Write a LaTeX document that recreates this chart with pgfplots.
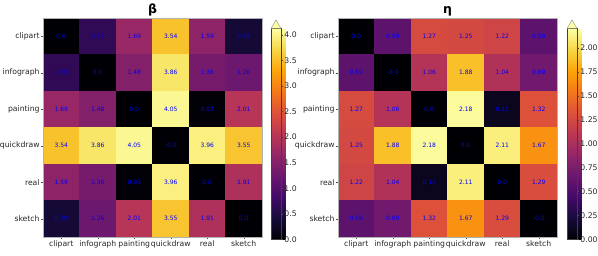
\documentclass[border=0pt]{standalone}
\usepackage{pgfplots}
\pgfplotsset{compat=1.18}
\usepackage{pgfplotstable}
\usepackage{fontspec}
\setmainfont{DejaVu Sans}
\pgfplotsset{colormap={inferno}{rgb255=(0,0,4) rgb255=(22,11,57) rgb255=(66,10,104) rgb255=(106,23,110) rgb255=(147,38,103) rgb255=(188,55,84) rgb255=(221,81,58) rgb255=(243,120,25) rgb255=(252,165,10) rgb255=(246,215,70) rgb255=(252,255,164)}}
\definecolor{infmax}{RGB}{252,255,164}

\pgfplotstableread{
x y c label
0 0 0.0 0.0
1 0 0.66 0.66
2 0 1.69 1.69
3 0 3.54 3.54
4 0 1.59 1.59
5 0 0.39 0.39
0 1 0.66 0.66
1 1 0.0 0.0
2 1 1.48 1.48
3 1 3.86 3.86
4 1 1.36 1.36
5 1 1.26 1.26
0 2 1.69 1.69
1 2 1.48 1.48
2 2 0.0 0.0
3 2 4.05 4.05
4 2 0.03 0.03
5 2 2.01 2.01
0 3 3.54 3.54
1 3 3.86 3.86
2 3 4.05 4.05
3 3 0.0 -0.0
4 3 3.96 3.96
5 3 3.55 3.55
0 4 1.59 1.59
1 4 1.36 1.36
2 4 0.03 0.03
3 4 3.96 3.96
4 4 0.0 0.0
5 4 1.91 1.91
0 5 0.39 0.39
1 5 1.26 1.26
2 5 2.01 2.01
3 5 3.55 3.55
4 5 1.91 1.91
5 5 0.0 0.0
}\betatab

\pgfplotstableread{
x y c label
0 0 0.0 0.0
1 0 0.59 0.59
2 0 1.27 1.27
3 0 1.25 1.25
4 0 1.22 1.22
5 0 0.59 0.59
0 1 0.59 0.59
1 1 0.0 -0.0
2 1 1.06 1.06
3 1 1.88 1.88
4 1 1.04 1.04
5 1 0.69 0.69
0 2 1.27 1.27
1 2 1.06 1.06
2 2 0.0 0.0
3 2 2.18 2.18
4 2 0.11 0.11
5 2 1.32 1.32
0 3 1.25 1.25
1 3 1.88 1.88
2 3 2.18 2.18
3 3 0.0 0.0
4 3 2.11 2.11
5 3 1.67 1.67
0 4 1.22 1.22
1 4 1.04 1.04
2 4 0.11 0.11
3 4 2.11 2.11
4 4 0.0 0.0
5 4 1.29 1.29
0 5 0.59 0.59
1 5 0.69 0.69
2 5 1.32 1.32
3 5 1.67 1.67
4 5 1.29 1.29
5 5 0.0 -0.0
}\etatab

\pgfplotsset{
  hm/.style={
    scale only axis, width=219pt, height=219pt, anchor=south west,
    xmin=-0.5, xmax=5.5, ymin=-0.5, ymax=5.5, y dir=reverse,
    enlargelimits=false, axis on top,
    xtick={0,...,5}, ytick={0,...,5},
    xticklabels={clipart,infograph,painting,quickdraw,real,sketch},
    yticklabels={clipart,infograph,painting,quickdraw,real,sketch},
    tick label style={font=\fontsize{7.7}{8}\selectfont, text=black!85},
    tick align=outside, xtick pos=bottom, ytick pos=left,
    major tick length=2.2pt, tick style={black!70},
    axis line style={black!30},
    xticklabel style={inner sep=1pt},
    yticklabel style={inner sep=1pt},
    colormap name=inferno, point meta min=0,
    title style={font=\bfseries\fontsize{12.5}{13}\selectfont, at={(0.5,1)}, anchor=base, yshift=-1.5pt},
    colorbar,
  },
  cb/.style={
    colorbar style={
      at={(parent axis.south east)}, anchor=south west, xshift=#1, yshift=-2.5pt,
      scale only axis, width=10pt, height=211pt,
      ytick pos=right, yticklabel pos=right, xtick=\empty,
      tick align=outside, major tick length=2.2pt, tick style={black!70},
      axis line style={black!75},
      yticklabel style={font=\fontsize{7.7}{8}\selectfont, text=black!85, inner sep=1pt, anchor=west, /pgf/number format/assume math mode=true},
      clip=false,
      after end axis/.code={
        \draw[black!45, fill=infmax] (rel axis cs:0,1) -- (rel axis cs:0.5,1.04) -- (rel axis cs:1,1);
      },
    },
  },
  lbl/.style={draw=none, mark=none, nodes near coords, point meta=explicit symbolic,
    nodes near coords align={center},
    every node near coord/.append style={font=\fontsize{6}{6}\selectfont, text=blue, anchor=center, inner sep=0pt}},
}

\begin{document}
\begin{tikzpicture}
\path[use as bounding box] (0,0) rectangle (598pt,256pt);
\begin{axis}[hm, at={(43pt,19pt)}, title={β}, point meta max=4.12, cb=0.5pt,
  colorbar style={ytick={0,0.5,...,4}, yticklabel style={/pgf/number format/.cd, fixed, fixed zerofill, precision=1}}]
\addplot[matrix plot*, mesh/cols=6, point meta=explicit] table[x=x, y=y, meta=c] {\betatab};
\addplot[lbl] table[x=x, y=y, meta=label] {\betatab};
\end{axis}
\begin{axis}[hm, at={(338pt,19pt)}, title={η}, point meta max=2.2, cb=1.5pt,
  colorbar style={ytick={0,0.25,...,2}, yticklabel style={/pgf/number format/.cd, fixed, fixed zerofill, precision=2}}]
\addplot[matrix plot*, mesh/cols=6, point meta=explicit] table[x=x, y=y, meta=c] {\etatab};
\addplot[lbl] table[x=x, y=y, meta=label] {\etatab};
\end{axis}
\end{tikzpicture}
\end{document}
